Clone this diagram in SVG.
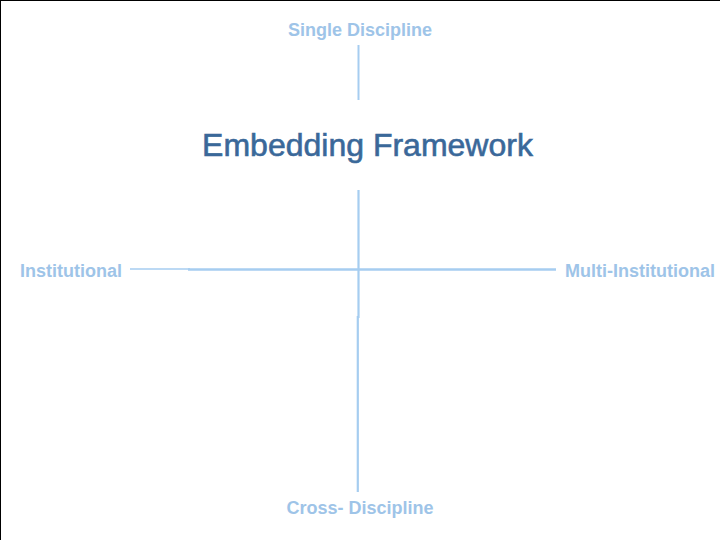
<svg xmlns="http://www.w3.org/2000/svg" width="720" height="540" viewBox="0 0 720 540">
  <style>
    .lbl { font-family: "Liberation Sans", Arial, sans-serif; font-weight: bold; font-size: 18px; fill: #9ec4e8; }
    .title { font-family: "Liberation Sans", Arial, sans-serif; font-size: 32px; fill: #3a6899; stroke: #3a6899; stroke-width: 0.6; }
    .ln { stroke: #a6cdf0; fill: none; }
  </style>
  <rect x="0" y="0" width="720" height="540" fill="#ffffff"/>
  <line x1="0.5" y1="0" x2="0.5" y2="540" stroke="#000" stroke-width="1"/>
  <line x1="0" y1="0.5" x2="720" y2="0.5" stroke="#000" stroke-width="1"/>
  <g id="connectors">
    <line class="ln" x1="358.5" y1="45" x2="358.5" y2="100" stroke-width="2"/>
    <line class="ln" x1="358.5" y1="190" x2="358.5" y2="318" stroke-width="2.2"/>
    <line class="ln" x1="357.8" y1="316" x2="357.8" y2="492" stroke-width="2.2"/>
    <line class="ln" x1="130" y1="269" x2="190" y2="269" stroke-width="1.5"/>
    <line class="ln" x1="188" y1="269.5" x2="556" y2="269.5" stroke-width="2.5"/>
  </g>
  <g id="title">
    <text class="title" x="367.5" y="156" text-anchor="middle">Embedding Framework</text>
  </g>
  <g id="single-discipline">
    <text class="lbl" x="360" y="36" text-anchor="middle">Single Discipline</text>
  </g>
  <g id="institutional">
    <text class="lbl" x="20" y="277">Institutional</text>
  </g>
  <g id="multi-institutional">
    <text class="lbl" x="565" y="277">Multi-Institutional</text>
  </g>
  <g id="cross-discipline">
    <text class="lbl" x="360" y="514" text-anchor="middle">Cross- Discipline</text>
  </g>
</svg>
